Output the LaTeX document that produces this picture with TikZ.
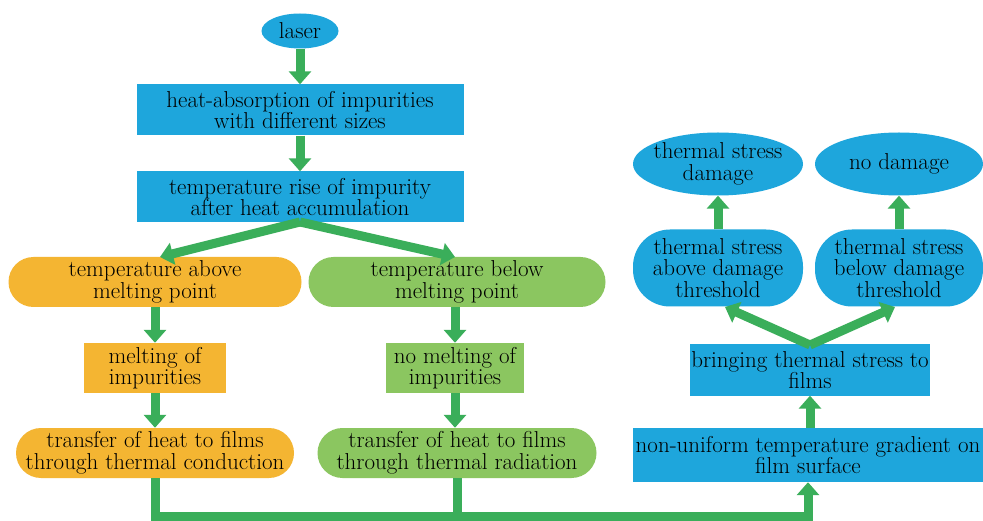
\documentclass[tikz,border=0pt]{standalone}
\usetikzlibrary{arrows.meta,shapes.geometric,positioning}
\definecolor{cblue}{HTML}{1EA6DC}
\definecolor{corange}{HTML}{F4B532}
\definecolor{clgreen}{HTML}{8BC660}
\definecolor{carrow}{HTML}{3AAE5A}
\begin{document}
\begin{tikzpicture}[x=1pt,y=-1pt,
  every node/.style={font=\fontsize{23}{21.5}\selectfont, align=center, inner sep=0pt, text=black},
  bbox/.style={fill=cblue, rectangle, minimum width=#1, minimum height=51pt},
  obox/.style={fill=corange, rectangle, minimum width=#1, minimum height=50pt},
  gbox/.style={fill=clgreen, rectangle, minimum width=#1, minimum height=50pt},
  oval/.style={fill=cblue, ellipse, inner xsep=-12pt, inner ysep=-4pt, minimum width=#1, minimum height=63pt},
  flow/.style={draw=carrow, line width=9pt, line join=miter, -{Triangle[width=22pt,length=13pt]}},
  plain/.style={draw=carrow, line width=9pt}
]
\fill[white] (0,0) rectangle (983,521);
\node[fill=cblue, ellipse, minimum width=77pt, minimum height=35pt] (laser) at (300,31) {laser};
\node[bbox=327pt] (abs) at (300,110) {heat-absorption of impurities\\with different sizes};
\node[bbox=327pt] (rise) at (300,197) {temperature rise of impurity\\after heat accumulation};
\node[obox=293pt, rounded corners=25pt] (above) at (155,282) {temperature above\\melting point};
\node[gbox=297pt, rounded corners=25pt] (below) at (457,282) {temperature below\\melting point};
\node[obox=142pt] (melt) at (155,368) {melting of\\impurities};
\node[gbox=138pt] (nomelt) at (455,368) {no melting of\\impurities};
\node[obox=278pt, rounded corners=25pt] (cond) at (155,453) {transfer of heat to films\\through thermal conduction};
\node[gbox=279pt, rounded corners=25pt] (rad) at (457,453) {transfer of heat to films\\through thermal radiation};
\node[bbox=350pt, minimum height=54pt] (nu) at (808,455) {non-uniform temperature gradient on\\film surface};
\node[bbox=240pt] (bring) at (810,370) {bringing thermal stress to\\films};
\node[fill=cblue, rectangle, rounded corners=37pt, minimum width=170pt, minimum height=77pt] (tsa) at (718,268) {thermal stress\\above damage\\threshold};
\node[fill=cblue, rectangle, rounded corners=37pt, minimum width=168pt, minimum height=77pt] (tsb) at (899,268) {thermal stress\\below damage\\threshold};
\node[oval=170pt] (tsd) at (718,164) {thermal stress\\damage};
\node[oval=168pt] (nod) at (899,164) {no damage};
\coordinate (c1) at (808,516);
\coordinate (j1) at (300,222);
\coordinate (j2) at (810,345);
\draw[flow] (laser.south) -- (abs.north);
\draw[flow] (abs.south) -- (rise.north);
\draw[flow] (j1) -- (160,257);
\draw[flow] (j1) -- (455,257);
\draw[flow] (above.south) -- (melt.north);
\draw[flow] (melt.south) -- (cond.north);
\draw[flow] (below.south -| nomelt.north) -- (nomelt.north);
\draw[flow] (nomelt.south) -- (nomelt.south |- rad.north);
\draw[plain] (rad.south) -- (rad.south |- c1);
\draw[flow] (cond.south) |- (c1) -- (nu.south);
\draw[flow] (nu.north -| bring.south) -- (bring.south);
\draw[flow] (j2) -- (725,307);
\draw[flow] (j2) -- (895,307);
\draw[flow] (tsa.north) -- (tsd.south);
\draw[flow] (tsb.north) -- (nod.south);
\end{tikzpicture}
\end{document}
